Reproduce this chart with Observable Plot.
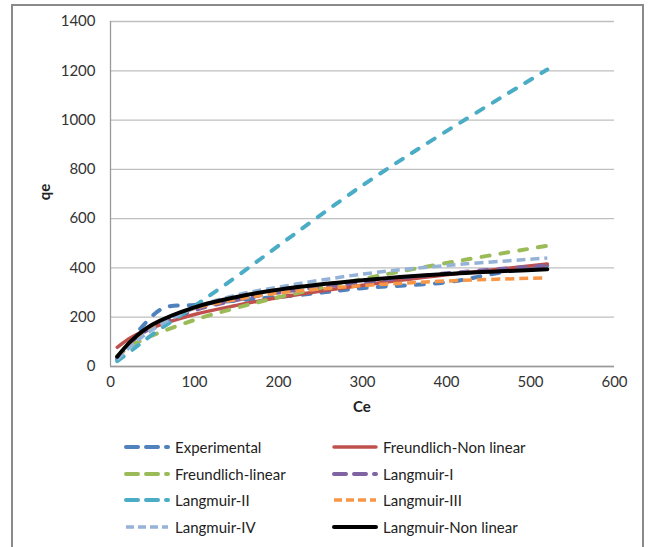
<!DOCTYPE html>
<html>
<head>
<meta charset="utf-8">
<script src="https://cdn.jsdelivr.net/npm/d3@7"></script>
<script src="https://cdn.jsdelivr.net/npm/@observablehq/plot@0.6"></script>
<style>
  body { margin: 0; background: #fff; }
  #wrap { position: relative; width: 651px; height: 547px; overflow: hidden; font-family: Lato, "Open Sans", sans-serif; }
  #frame { position: absolute; left: 11px; top: 4px; width: 633px; height: 600px; border: 2px solid #8a8a8a; box-sizing: border-box; }
  #chart { position: absolute; left: 0; top: 0; }
  .title { position: absolute; font-weight: bold; font-size: 15px; color: #222; }
  #legend { position: absolute; left: 0; top: 420px; width: 651px; }
  .item { position: absolute; height: 20px; display: flex; align-items: center; font-size: 15px; color: #222; white-space: nowrap; }
  .item svg { margin-right: 4px; }
</style>
</head>
<body>
<div id="wrap">
  <div id="frame"></div>
  <div id="chart"></div>
  <div class="title" style="left:36px; top:183px; transform: rotate(-90deg); transform-origin: center;">qe</div>
  <div class="title" style="left:353px; top:397px;">Ce</div>
  <div id="legend"></div>
</div>
<script>
// ---- data ----
const seriesNames = ["Experimental", "Freundlich-Non linear", "Freundlich-linear", "Langmuir-I",
                     "Langmuir-II", "Langmuir-III", "Langmuir-IV", "Langmuir-Non linear"];
const expCe = [8, 60, 100, 150, 230, 300, 400, 470, 520];
const expQe = [30, 232, 250, 268, 292, 318, 342, 385, 410];
const modelCe = [8, 25, 50, 100, 150, 200, 300, 400, 520];
const freundlichNonLinear = [78, 119, 158, 211, 248, 280, 330, 372, 416];
const freundlichLinear = [42, 85, 126, 189, 238, 281, 355, 420, 490];
const langmuirI = [38, 100, 160, 228, 270, 300, 342, 378, 410];
const langmuirII = [22, 65, 130, 245, 365, 490, 735, 955, 1205];
const langmuirIII = [35, 100, 165, 235, 272, 298, 328, 347, 360];
const langmuirIV = [28, 85, 150, 238, 290, 322, 375, 410, 440];
const langmuirNonLinear = [40, 105, 170, 240, 282, 312, 350, 375, 395];
const xTicks = [0, 100, 200, 300, 400, 500, 600];
const yTicks = [0, 200, 400, 600, 800, 1000, 1200, 1400];

// ---- styles ----
const styles = {
  "Experimental":        {stroke: "#4F81BD", width: 4,   dash: "8,11", cap: "round"},
  "Freundlich-Non linear": {stroke: "#C0504D", width: 3.5, dash: null,   cap: "round"},
  "Freundlich-linear":   {stroke: "#9BBB59", width: 4,   dash: "8,11", cap: "round"},
  "Langmuir-I":          {stroke: "#8064A2", width: 4,   dash: "8,11", cap: "round"},
  "Langmuir-II":         {stroke: "#4BACC6", width: 4,   dash: "8,11", cap: "round"},
  "Langmuir-III":        {stroke: "#F79646", width: 3.5, dash: "9,5",  cap: "butt"},
  "Langmuir-IV":         {stroke: "#95B3D7", width: 3.5, dash: "9,5",  cap: "butt"},
  "Langmuir-Non linear": {stroke: "#000000", width: 4,   dash: null,   cap: "round"}
};

const modelValues = [freundlichNonLinear, freundlichLinear, langmuirI, langmuirII, langmuirIII, langmuirIV, langmuirNonLinear];
const rows = [];
expCe.forEach((c, i) => rows.push({series: seriesNames[0], Ce: c, qe: expQe[i]}));
modelValues.forEach((vals, k) => modelCe.forEach((c, i) => rows.push({series: seriesNames[k + 1], Ce: c, qe: vals[i]})));

const lineMarks = seriesNames.map(name => {
  const s = styles[name];
  return Plot.line(rows.filter(r => r.series === name), {
    x: "Ce", y: "qe", stroke: s.stroke, strokeWidth: s.width,
    strokeDasharray: s.dash || undefined, strokeLinecap: s.cap, strokeLinejoin: "round",
    curve: "catmull-rom"
  });
});

const chart = Plot.plot({
  width: 651, height: 420,
  marginLeft: 110, marginRight: 37, marginTop: 21, marginBottom: 54,
  style: {fontFamily: "Lato, 'Open Sans', sans-serif", fontSize: "15px", color: "#333", background: "transparent"},
  x: {domain: [0, 600]},
  y: {domain: [0, 1400]},
  marks: [
    Plot.gridY(yTicks, {stroke: "#bfbfbf", strokeOpacity: 1, strokeWidth: 1.3}),
    Plot.ruleX([0], {stroke: "#9a9a9a", strokeWidth: 1.3}),
    Plot.ruleY([0], {stroke: "#9a9a9a", strokeWidth: 1.3}),
    Plot.axisX(xTicks, {tickSize: 0, tickPadding: 10, label: null, tickFormat: d => String(d)}),
    Plot.axisY(yTicks, {tickSize: 0, tickPadding: 15, label: null, tickFormat: d => String(d)}),
    ...lineMarks
  ]
});
document.getElementById("chart").appendChild(chart);

// ---- legend ----
const legend = document.getElementById("legend");
seriesNames.forEach((name, i) => {
  const col = i % 2, row = Math.floor(i / 2);
  const s = styles[name];
  const div = document.createElement("div");
  div.className = "item";
  div.style.left = (col === 0 ? 123 : 331) + "px";
  div.style.top = (17 + row * 26.5) + "px";
  const svg = d3.create("svg").attr("width", 48).attr("height", 10);
  svg.append("line").attr("x1", 3).attr("x2", 45).attr("y1", 5).attr("y2", 5)
    .attr("stroke", s.stroke).attr("stroke-width", s.width)
    .attr("stroke-linecap", s.cap)
    .attr("stroke-dasharray", s.dash ? (s.cap === "round" ? "12,8" : "8,4") : null);
  div.appendChild(svg.node());
  const span = document.createElement("span");
  span.textContent = name;
  div.appendChild(span);
  legend.appendChild(div);
});
</script>
</body>
</html>
